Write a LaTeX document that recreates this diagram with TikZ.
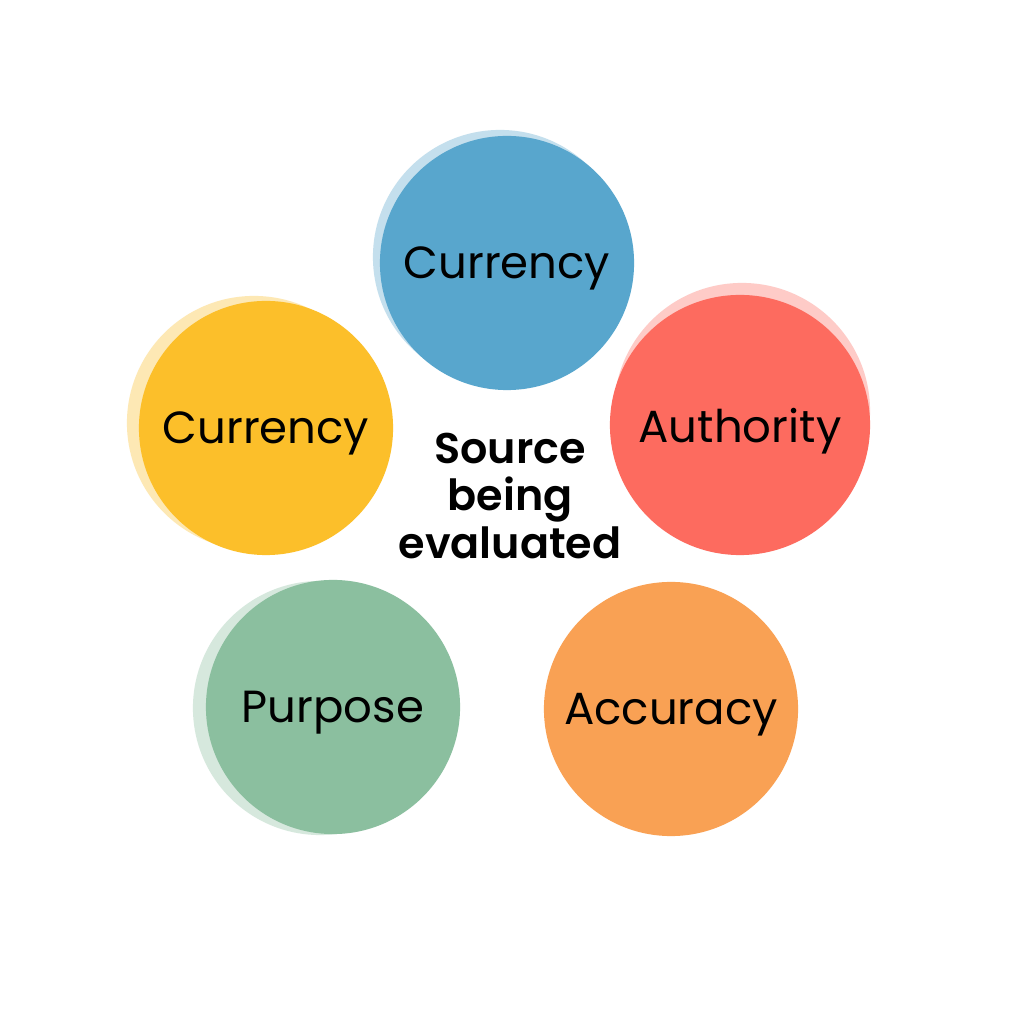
\documentclass[tikz,border=0pt]{standalone}
\usepackage{fontspec}
\setmainfont{Poppins}
\newfontfamily\semib{Poppins SemiBold}
\definecolor{blueC}{HTML}{58A6CD}
\definecolor{yellowC}{HTML}{FCBF2A}
\definecolor{redC}{HTML}{FD6B5F}
\definecolor{greenC}{HTML}{8BBF9F}
\definecolor{orangeC}{HTML}{F9A154}
\tikzset{
  crit/.style={circle, minimum size=2.54cm, inner sep=0pt, text depth=0pt, font=\fontsize{12.8}{15}\selectfont},
  halo/.style={circle, minimum size=2.54cm, inner sep=0pt, fill opacity=0.35}
}
\begin{document}
\begin{tikzpicture}[x=0.01cm, y=0.01cm]
\useasboundingbox[fill=white] (0,0) rectangle (1024,1024);
%Currency (top)
\node[halo, fill=blueC] (blueHalo) at (500,767) {};
\node[crit, fill=blueC] (currTop) at (507,761) {Currency};
%Currency (left)
\node[halo, fill=yellowC] (yellowHalo) at (254,601) {};
\node[crit, fill=yellowC] (currLeft) at (266,596) {Currency};
%Authority
\node[halo, fill=redC, minimum size=2.56cm] (redHalo) at (742,613) {};
\node[crit, fill=redC, minimum size=2.6cm] (auth) at (740,599) {Authority};
%Purpose
\node[halo, fill=greenC] (greenHalo) at (320,316) {};
\node[crit, fill=greenC] (purp) at (333,317) {Purpose};
%Accuracy
\node[crit, fill=orangeC] (acc) at (671,315) {Accuracy};
%Source
\node[align=center, font=\semib\fontsize{12.2}{13.6}\selectfont] (src) at (510,528) {Source\\being\\evaluated};
\end{tikzpicture}
\end{document}
